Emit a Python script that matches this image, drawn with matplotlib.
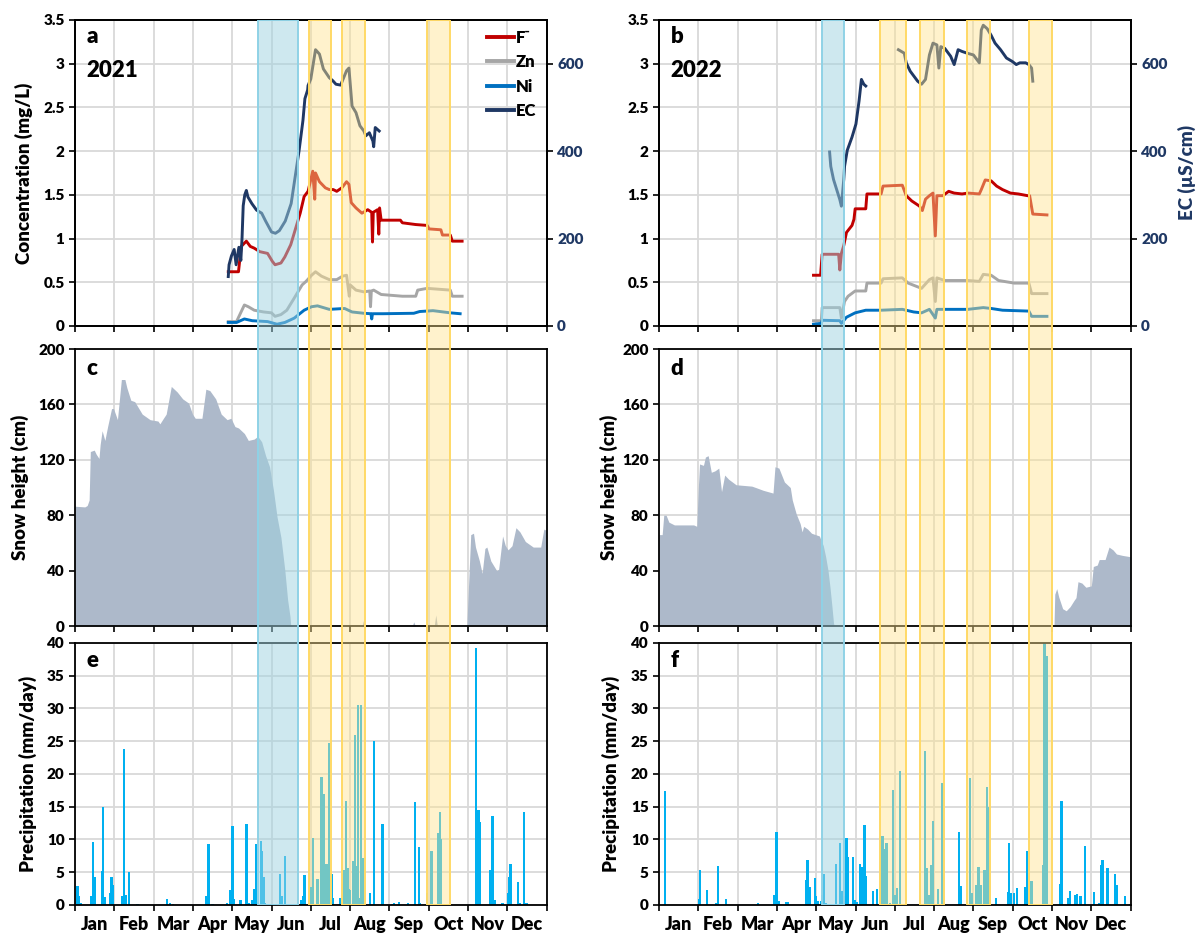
import numpy as np
import matplotlib.pyplot as plt
from matplotlib.ticker import FuncFormatter
from matplotlib.lines import Line2D

plt.rcParams['font.family'] = ['Lato', 'DejaVu Sans']
plt.rcParams['font.weight'] = 'heavy'
plt.rcParams['axes.labelweight'] = 'heavy'

# x positions are in months since 1 Jan (0 = Jan 1, 12 = Dec 31)
MONTHS = ['Jan', 'Feb', 'Mar', 'Apr', 'May', 'Jun',
          'Jul', 'Aug', 'Sep', 'Oct', 'Nov', 'Dec']

# ---- 2021 concentrations (mg/L) and EC (uS/cm) ----
F21 = [(3.90, 0.62), (4.16, 0.62), (4.23, 0.91), (4.36, 0.97), (4.46, 0.91), (4.56, 0.89),
       (4.70, 0.85), (4.90, 0.83), (5.02, 0.74), (5.09, 0.70), (5.24, 0.72), (5.34, 0.79),
       (5.49, 0.93), (5.63, 1.14), (5.73, 1.29), (5.83, 1.48), (5.93, 1.54), (6.05, 1.77),
       (6.10, 1.45), (6.12, 1.75), (6.22, 1.65), (6.37, 1.58), (6.47, 1.56), (6.57, 1.56),
       (6.66, 1.54), (6.79, 1.58), (6.91, 1.65), (6.97, 1.62), (7.03, 1.41), (7.15, 1.35),
       (7.30, 1.29), (7.45, 1.33), (7.55, 1.30), (7.57, 0.96), (7.59, 1.30), (7.70, 1.33),
       (7.73, 1.05), (7.75, 1.35), (7.79, 1.21), (8.28, 1.21), (8.33, 1.18), (8.67, 1.16),
       (8.96, 1.15), (9.01, 1.11), (9.31, 1.10), (9.35, 1.04), (9.55, 1.04), (9.60, 0.97),
       (9.85, 0.97)]
ZN21 = [(3.90, 0.05), (4.11, 0.05), (4.31, 0.24), (4.41, 0.22), (4.56, 0.18), (4.80, 0.16),
        (5.00, 0.15), (5.09, 0.11), (5.24, 0.13), (5.39, 0.18), (5.58, 0.32), (5.78, 0.47),
        (5.88, 0.51), (6.02, 0.58), (6.12, 0.62), (6.27, 0.57), (6.47, 0.53), (6.66, 0.53),
        (6.81, 0.57), (6.91, 0.58), (6.98, 0.34), (7.00, 0.47), (7.15, 0.41), (7.35, 0.39),
        (7.50, 0.40), (7.52, 0.22), (7.54, 0.40), (7.60, 0.41), (7.79, 0.36), (8.33, 0.34),
        (8.67, 0.34), (8.72, 0.41), (8.96, 0.43), (9.55, 0.41), (9.60, 0.34), (9.85, 0.34)]
NI21 = [(3.90, 0.04), (4.11, 0.04), (4.31, 0.08), (4.51, 0.06), (4.90, 0.05), (5.14, 0.02),
        (5.34, 0.04), (5.58, 0.09), (5.83, 0.18), (6.02, 0.22), (6.17, 0.23), (6.47, 0.19),
        (6.86, 0.20), (7.05, 0.16), (7.35, 0.145), (7.53, 0.14), (7.55, 0.08), (7.57, 0.14),
        (7.84, 0.14), (8.62, 0.145), (8.77, 0.165), (9.11, 0.175), (9.55, 0.15), (9.80, 0.14)]
EC21 = [(3.90, 113), (3.92, 140), (3.98, 160), (4.05, 175), (4.10, 140), (4.17, 180),
        (4.22, 150), (4.25, 200), (4.28, 275), (4.32, 300), (4.36, 310), (4.40, 295),
        (4.50, 280), (4.62, 265), (4.75, 258), (4.85, 240), (5.00, 215), (5.10, 212),
        (5.20, 218), (5.35, 240), (5.50, 280), (5.60, 340), (5.70, 400), (5.80, 470),
        (5.85, 520), (5.92, 540), (5.93, 550), (6.00, 565), (6.12, 632), (6.22, 622),
        (6.32, 588), (6.47, 568), (6.56, 561), (6.64, 553), (6.76, 551), (6.91, 584),
        (6.97, 590), (7.05, 503), (7.15, 488), (7.25, 458), (7.35, 446), (7.40, 435),
        (7.49, 442), (7.58, 423), (7.60, 410), (7.64, 454), (7.74, 446)]

# ---- 2022 concentrations (mg/L) and EC (uS/cm) ----
F22 = [(3.93, 0.58), (4.11, 0.58), (4.15, 0.82), (4.57, 0.82), (4.60, 0.64), (4.64, 0.83),
       (4.70, 0.92), (4.77, 1.07), (4.91, 1.15), (4.96, 1.22), (4.99, 1.34), (5.26, 1.34),
       (5.29, 1.51), (5.65, 1.51), (5.70, 1.60), (6.19, 1.61), (6.29, 1.49), (6.43, 1.43),
       (6.63, 1.37), (6.70, 1.32), (6.78, 1.45), (6.88, 1.49), (6.97, 1.52), (7.03, 1.03),
       (7.07, 1.49), (7.22, 1.49), (7.37, 1.54), (7.51, 1.52), (7.71, 1.51), (7.86, 1.52),
       (8.15, 1.51), (8.20, 1.56), (8.30, 1.67), (8.45, 1.66), (8.59, 1.60), (8.74, 1.56),
       (8.94, 1.52), (9.14, 1.51), (9.38, 1.49), (9.43, 1.49), (9.51, 1.28), (9.87, 1.27)]
ZN22 = [(3.93, 0.06), (4.13, 0.06), (4.15, 0.21), (4.60, 0.21), (4.64, 0.09), (4.72, 0.28),
        (4.81, 0.34), (4.99, 0.40), (5.26, 0.40), (5.29, 0.49), (5.65, 0.49), (5.70, 0.54),
        (6.19, 0.55), (6.34, 0.49), (6.68, 0.43), (6.88, 0.53), (6.97, 0.55), (7.03, 0.28),
        (7.07, 0.55), (7.27, 0.52), (7.86, 0.52), (8.15, 0.51), (8.25, 0.59), (8.45, 0.58),
        (8.64, 0.52), (9.04, 0.49), (9.41, 0.49), (9.48, 0.37), (9.87, 0.37)]
NI22 = [(3.93, 0.02), (4.13, 0.03), (4.15, 0.065), (4.60, 0.06), (4.64, 0.03), (4.77, 0.10),
        (4.99, 0.15), (5.26, 0.18), (5.65, 0.18), (6.19, 0.19), (6.48, 0.16), (6.68, 0.15),
        (6.88, 0.19), (7.03, 0.09), (7.07, 0.19), (7.86, 0.19), (8.25, 0.21), (8.45, 0.20),
        (8.74, 0.18), (9.41, 0.17), (9.48, 0.11), (9.87, 0.11)]
EC22_A = [(4.34, 398), (4.37, 365), (4.44, 335), (4.52, 312), (4.60, 289), (4.64, 274),
          (4.70, 335), (4.72, 365), (4.79, 402), (4.91, 432), (5.01, 462), (5.09, 515),
          (5.15, 564), (5.21, 553), (5.26, 549)]
EC22_B = [(6.09, 632), (6.24, 624), (6.29, 602), (6.39, 583), (6.58, 560), (6.68, 553),
          (6.78, 564), (6.88, 620), (6.97, 647), (7.07, 643), (7.12, 590), (7.17, 639),
          (7.27, 635), (7.42, 617), (7.51, 598), (7.61, 632), (7.71, 628), (7.84, 624),
          (8.00, 620), (8.15, 602), (8.20, 677), (8.25, 688), (8.35, 680), (8.45, 665),
          (8.55, 647), (8.69, 632), (8.84, 613), (8.99, 605), (9.09, 598), (9.18, 602),
          (9.33, 602), (9.41, 598), (9.48, 590), (9.51, 560)]

# ---- snow height (cm) ----
SNOW21 = [(0.00, 86.5), (0.25, 86), (0.31, 87), (0.36, 91), (0.39, 126), (0.49, 127),
          (0.54, 124), (0.61, 121), (0.64, 131), (0.69, 141), (0.76, 134), (0.83, 144),
          (0.93, 157), (0.98, 157), (1.08, 149), (1.18, 178), (1.27, 178), (1.32, 172),
          (1.42, 163), (1.52, 162), (1.71, 153), (1.91, 149), (2.11, 148), (2.16, 146),
          (2.25, 150), (2.32, 153), (2.45, 173), (2.60, 169), (2.74, 164), (2.89, 161),
          (2.99, 153), (3.06, 150), (3.23, 150), (3.33, 171), (3.43, 170), (3.58, 164),
          (3.72, 153), (3.87, 149), (3.97, 150), (4.07, 144), (4.16, 143), (4.31, 139),
          (4.41, 134), (4.56, 135), (4.65, 137), (4.75, 133), (4.85, 123), (4.95, 115),
          (5.05, 98), (5.14, 79), (5.24, 64), (5.34, 40), (5.41, 19), (5.47, 7), (5.49, 0),
          (7.30, 0), (7.34, 4), (7.38, 0), (8.58, 0), (8.62, 3), (8.66, 0), (9.14, 0),
          (9.18, 8), (9.22, 0), (9.97, 0), (10.01, 27), (10.07, 66), (10.14, 67), (10.19, 57),
          (10.29, 47), (10.36, 38), (10.43, 56), (10.48, 57), (10.58, 47), (10.73, 40),
          (10.78, 41), (10.88, 65), (10.95, 58), (11.02, 55), (11.12, 58), (11.22, 71),
          (11.32, 68), (11.46, 61), (11.66, 57), (11.85, 57), (11.93, 70), (12.00, 69)]
SNOW22 = [(0.00, 66), (0.08, 66), (0.12, 80), (0.18, 80), (0.25, 75), (0.39, 73), (0.88, 73),
          (0.96, 72), (1.00, 100), (1.03, 117), (1.13, 116), (1.18, 122), (1.25, 123),
          (1.33, 111), (1.42, 112), (1.52, 114), (1.59, 97), (1.67, 109), (1.77, 106),
          (1.96, 102), (2.36, 101), (2.46, 100), (2.65, 98), (2.90, 96), (2.95, 115),
          (3.05, 114), (3.19, 104), (3.34, 100), (3.39, 91), (3.49, 81), (3.59, 74),
          (3.64, 68), (3.68, 72), (3.78, 70), (3.88, 67), (4.08, 65), (4.18, 58), (4.24, 50),
          (4.30, 40), (4.35, 28), (4.40, 14), (4.44, 2), (4.46, 0), (10.05, 0), (10.07, 23),
          (10.12, 27), (10.17, 21), (10.27, 12.5), (10.36, 11), (10.46, 14), (10.56, 18.5),
          (10.61, 20.5), (10.66, 32), (10.76, 31), (10.86, 28), (11.00, 29), (11.05, 43),
          (11.15, 44), (11.20, 48), (11.35, 48), (11.45, 57), (11.55, 55), (11.64, 52),
          (11.79, 51), (12.00, 50)]

# ---- daily precipitation (mm/day) ----
PREC21 = [(0.06, 2.9), (0.09, 1.3), (0.15, 0.3), (0.40, 1.3), (0.45, 9.6), (0.50, 4.3),
          (0.68, 5.2), (0.72, 15.0), (0.77, 1.2), (0.89, 1.8), (0.93, 4.3), (0.97, 3.1),
          (1.21, 1.3), (1.25, 23.8), (1.30, 1.5), (1.37, 5.1), (1.59, 0.15), (2.34, 0.9),
          (2.42, 0.35), (2.49, 0.15), (3.35, 1.3), (3.40, 9.3), (3.50, 0.15), (3.86, 0.25),
          (3.94, 2.3), (4.01, 12.1), (4.05, 0.9), (4.21, 0.7), (4.36, 12.3), (4.43, 0.25),
          (4.51, 0.7), (4.55, 2.4), (4.60, 9.3), (4.65, 0.4), (4.73, 9.8), (4.76, 8.3),
          (4.81, 4.3), (4.84, 0.35), (5.21, 4.7), (5.26, 1.4), (5.34, 7.5), (5.75, 0.7),
          (5.80, 1.4), (5.84, 4.6), (6.01, 2.8), (6.05, 10.3), (6.15, 1.3), (6.17, 3.9),
          (6.27, 19.5), (6.32, 16.9), (6.34, 0.35), (6.40, 6.2), (6.46, 24.8), (6.53, 4.7),
          (6.57, 1.0), (6.75, 1.0), (6.85, 5.3), (6.90, 15.8), (6.94, 5.7), (6.97, 2.4),
          (7.00, 2.3), (7.07, 6.7), (7.12, 25.9), (7.16, 5.9), (7.20, 30.5), (7.24, 1.0),
          (7.28, 30.5), (7.32, 7.2), (7.51, 1.8), (7.61, 25.0), (7.82, 12.3), (8.06, 0.15),
          (8.12, 0.35), (8.24, 0.5), (8.47, 0.25), (8.65, 15.7), (8.75, 8.8), (8.78, 0.35),
          (8.95, 1.8), (9.07, 8.3), (9.24, 11.0), (9.28, 14.2), (9.32, 10.0), (10.20, 39.2),
          (10.23, 14.5), (10.27, 14.5), (10.29, 12.7), (10.57, 5.3), (10.62, 13.6),
          (10.68, 0.8), (10.88, 0.35), (11.01, 1.8), (11.04, 4.3), (11.08, 6.3), (11.27, 3.5),
          (11.33, 0.25), (11.42, 14.2), (11.49, 0.25)]
PREC22 = [(0.15, 17.4), (1.01, 0.85), (1.05, 5.3), (1.22, 2.3), (1.45, 0.25), (1.50, 5.9),
          (1.71, 0.85), (2.52, 0.35), (2.94, 1.5), (2.99, 11.2), (3.04, 0.65), (3.23, 0.5),
          (3.28, 0.5), (3.74, 3.8), (3.78, 6.9), (3.83, 2.8), (3.97, 4.1), (4.00, 1.3),
          (4.05, 0.6), (4.12, 0.65), (4.16, 1.5), (4.20, 4.7), (4.24, 0.35), (4.50, 6.3),
          (4.60, 9.4), (4.65, 2.2), (4.70, 1.3), (4.77, 10.2), (4.81, 7.4), (4.93, 7.4),
          (4.97, 0.75), (5.02, 0.5), (5.11, 6.3), (5.17, 5.8), (5.23, 12.2), (5.27, 4.5),
          (5.44, 2.2), (5.54, 2.4), (5.69, 10.5), (5.74, 8.6), (5.79, 9.5), (5.88, 0.25),
          (5.95, 17.6), (5.99, 1.5), (6.05, 2.6), (6.13, 20.5), (6.76, 23.5), (6.81, 5.7),
          (6.86, 1.5), (6.93, 6.1), (6.97, 12.8), (7.10, 2.5), (7.20, 18.6), (7.64, 11.2),
          (7.69, 2.9), (7.91, 19.4), (7.95, 1.8), (8.06, 3.0), (8.13, 5.8), (8.18, 3.0),
          (8.28, 5.3), (8.34, 18.0), (8.38, 15.0), (8.57, 1.0), (8.88, 2.0), (8.90, 9.5),
          (8.96, 1.8), (9.04, 1.8), (9.11, 2.6), (9.32, 2.8), (9.37, 8.2), (9.48, 3.7),
          (9.77, 6.1), (9.81, 40.0), (9.86, 38.0), (10.20, 3.2), (10.24, 15.9), (10.41, 1.0),
          (10.45, 2.1), (10.58, 1.5), (10.63, 1.7), (10.72, 1.3), (10.84, 9.0), (11.07, 2.0),
          (11.20, 0.25), (11.24, 6.1), (11.28, 6.8), (11.41, 5.7), (11.61, 4.8), (11.65, 3.0),
          (11.86, 1.4), (11.98, 0.15)]

# ---- highlighted periods (start, end) in months ----
MELT21 = [(4.66, 5.67)]
RAIN21 = [(5.95, 6.52), (6.79, 7.37), (8.96, 9.54)]
MELT22 = [(4.14, 4.70)]
RAIN22 = [(5.63, 6.28), (6.65, 7.26), (7.84, 8.42), (9.41, 10.01)]

C_F, C_ZN, C_NI, C_EC = '#c00000', '#a6a6a6', '#0070c0', '#1f3864'
C_SNOW, C_PREC = '#adb9ca', '#00b0f0'
GRID = '#d9d9d9'


def xy(pairs):
    a = np.array(pairs, dtype=float)
    return a[:, 0], a[:, 1]


def style(ax, ymax, ystep, bottom_labels=False):
    ax.set_xlim(0, 12)
    ax.set_ylim(0, ymax)
    ax.set_xticks(range(13))
    ax.set_yticks(np.arange(0, ymax + ystep / 2, ystep))
    ax.yaxis.set_major_formatter(FuncFormatter(lambda v, p: '%g' % v))
    ax.grid(True, color=GRID, lw=1.3)
    ax.set_axisbelow(True)
    for s in ax.spines.values():
        s.set_linewidth(1.3)
    ax.tick_params(direction='out', length=4, width=1.2, labelsize=11)
    ax.set_xticklabels([])
    if bottom_labels:
        ax.set_xticks(np.arange(12) + 0.5, minor=True)
        ax.set_xticklabels(MONTHS, minor=True, fontsize=13)
        ax.tick_params(axis='x', which='minor', length=0, pad=8)


fig = plt.figure(figsize=(12, 9.38), dpi=100)

COLS = {'L': 0.0625, 'R': 0.5492}
W = 0.393
ROWS = {'top': (0.6525, 0.3262), 'mid': (0.3326, 0.2953), 'bot': (0.0352, 0.2793)}

years = [
    ('L', 'a', 'c', 'e', '2021', F21, ZN21, NI21, [EC21], SNOW21, PREC21, MELT21, RAIN21),
    ('R', 'b', 'd', 'f', '2022', F22, ZN22, NI22, [EC22_A, EC22_B], SNOW22, PREC22, MELT22, RAIN22),
]

for col, la, lc, le, year, f, zn, ni, ecs, snow, prec, melt, rain in years:
    x0 = COLS[col]

    # concentrations + EC
    ax = fig.add_axes([x0, ROWS['top'][0], W, ROWS['top'][1]])
    style(ax, 3.5, 0.5)
    for series, c in [(f, C_F), (zn, C_ZN), (ni, C_NI)]:
        ax.plot(*xy(series), color=c, lw=2.1)
    tw = ax.twinx()
    tw.set_ylim(0, 700)
    tw.set_yticks([0, 200, 400, 600])
    tw.tick_params(direction='out', length=4, width=1.2, labelsize=11, labelcolor=C_EC)
    for s in tw.spines.values():
        s.set_linewidth(1.3)
    for ec in ecs:
        tw.plot(*xy(ec), color=C_EC, lw=2.1)
    ax.text(0.025, 0.945, la, transform=ax.transAxes, fontsize=16, va='center')
    ax.text(0.025, 0.835, year, transform=ax.transAxes, fontsize=16, va='center')
    if col == 'L':
        ax.set_ylabel('Concentration (mg/L)', fontsize=13.5)
        ax.yaxis.set_label_coords(-0.09, 0.5)
        handles = [Line2D([], [], color=c, lw=2.8) for c in (C_F, C_ZN, C_NI, C_EC)]
        tw.legend(handles, ['F\u207b', 'Zn', 'Ni', 'EC'], loc='upper right',
                  bbox_to_anchor=(1.0, 1.0), frameon=False, fontsize=12,
                  handlelength=1.6, handletextpad=0.15, labelspacing=0.5,
                  borderaxespad=0.2)
    else:
        tw.set_ylabel('EC (\u00b5S/cm)', fontsize=13.5, color=C_EC)
        tw.yaxis.set_label_coords(1.10, 0.5)

    # snow height
    ax = fig.add_axes([x0, ROWS['mid'][0], W, ROWS['mid'][1]])
    style(ax, 200, 40)
    sx, sy = xy(snow)
    ax.fill_between(sx, sy, 0, color=C_SNOW, lw=0)
    ax.text(0.025, 0.93, lc, transform=ax.transAxes, fontsize=16, va='center')
    ax.set_ylabel('Snow height (cm)', fontsize=13.5)
    ax.yaxis.set_label_coords(-0.097 if col == 'L' else -0.088, 0.5)

    # precipitation
    ax = fig.add_axes([x0, ROWS['bot'][0], W, ROWS['bot'][1]])
    style(ax, 40, 5, bottom_labels=True)
    px, py = xy(prec)
    ax.bar(px, py, width=0.06, color=C_PREC, lw=0)
    ax.text(0.025, 0.935, le, transform=ax.transAxes, fontsize=16, va='center')
    ax.set_ylabel('Precipitation (mm/day)', fontsize=13.5)
    ax.yaxis.set_label_coords(-0.08 if col == 'L' else -0.082, 0.5)

    # highlighted periods spanning all three panels
    ov = fig.add_axes([x0, ROWS['bot'][0], W, 0.979 - ROWS['bot'][0]], zorder=10)
    ov.set_xlim(0, 12)
    ov.set_ylim(0, 1)
    ov.axis('off')
    for a, b in melt:
        ov.axvspan(a, b, facecolor='#9fd3e0', alpha=0.5, edgecolor='none')
        ov.axvspan(a, b, facecolor='none', edgecolor='#8fd2e6', lw=1.4)
    for a, b in rain:
        ov.axvspan(a, b, facecolor='#ffe38f', alpha=0.45, edgecolor='none')
        ov.axvspan(a, b, facecolor='none', edgecolor='#ffd966', lw=1.4)

fig.savefig('out.png', dpi=100)
